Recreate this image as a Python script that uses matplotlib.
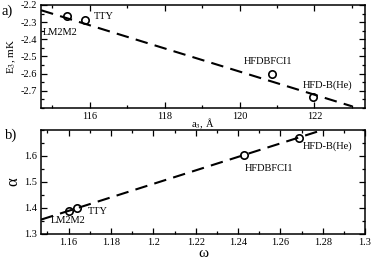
import numpy as np
import matplotlib.pyplot as plt
from matplotlib.ticker import MultipleLocator

plt.rcParams['font.family'] = ['Liberation Serif', 'DejaVu Serif']
plt.rcParams['axes.unicode_minus'] = False
plt.rcParams['mathtext.fontset'] = 'stix'

# potentials
names = ['LM2M2', 'TTY', 'HFDBFCI1', 'HFD-B(He)']

# panel a: scattering length vs trimer energy
a3 = [115.4, 115.87, 120.86, 121.95]
e3 = [-2.265, -2.288, -2.603, -2.738]
fit_a_x = [114.7, 123.0]
fit_a_y = [-2.231, -2.79]
lab_a_pos = [(114.75, -2.36), (116.1, -2.27), (120.1, -2.53), (121.7, -2.665)]

# panel b: omega vs alpha
omega = [1.16, 1.164, 1.2426, 1.2687]
alpha = [1.389, 1.398, 1.605, 1.670]
fit_b_x = [1.147, 1.2818]
fit_b_y = [1.355, 1.705]
lab_b_pos = [(1.1517, 1.352), (1.169, 1.386), (1.2434, 1.55), (1.2706, 1.637)]

fig = plt.figure(figsize=(3.74, 2.59), dpi=100)
ax1 = fig.add_axes([0.110, 0.583, 0.866, 0.398])
ax2 = fig.add_axes([0.110, 0.097, 0.866, 0.401])

def style(ax):
    ax.tick_params(which='both', direction='in', top=True, right=True,
                   labelsize=7.5, width=0.9, pad=3)
    ax.tick_params(which='major', length=4.5)
    ax.tick_params(which='minor', length=2.5)
    for s in ax.spines.values():
        s.set_linewidth(1.1)

# panel a
ax1.plot(fit_a_x, fit_a_y, '--', color='black', lw=1.5, dashes=(6, 3.5))
ax1.plot(a3, e3, 'o', mfc='none', mec='black', ms=5.3, mew=1.2)
for n, (x, y) in zip(names, lab_a_pos):
    ax1.text(x, y, n, fontsize=7.5, va='center', ha='left')
ax1.set_xlim(114.7, 123.35)
ax1.set_ylim(-2.8, -2.2)
ax1.xaxis.set_major_locator(MultipleLocator(2))
ax1.xaxis.set_minor_locator(MultipleLocator(1))
ax1.yaxis.set_major_locator(MultipleLocator(0.1))
ax1.yaxis.set_minor_locator(MultipleLocator(0.05))
ax1.set_yticks([-2.2, -2.3, -2.4, -2.5, -2.6, -2.7])
ax1.set_ylabel(r'E$_3$, mK', fontsize=8, labelpad=2)
ax1.text(119.02, -2.848, r'a$_3$, Å', fontsize=7.5, ha='center', va='top')
style(ax1)
fig.text(0.003, 0.955, 'a)', fontsize=10.5, va='center')

# panel b
ax2.plot(fit_b_x, fit_b_y, '--', color='black', lw=1.5, dashes=(6, 3.5))
ax2.plot(omega, alpha, 'o', mfc='none', mec='black', ms=5.3, mew=1.2)
for n, (x, y) in zip(names, lab_b_pos):
    ax2.text(x, y, n, fontsize=7.5, va='center', ha='left')
ax2.set_xlim(1.147, 1.3)
ax2.set_ylim(1.3, 1.7)
ax2.xaxis.set_major_locator(MultipleLocator(0.02))
ax2.xaxis.set_minor_locator(MultipleLocator(0.01))
ax2.yaxis.set_major_locator(MultipleLocator(0.1))
ax2.yaxis.set_minor_locator(MultipleLocator(0.05))
ax2.set_xticks([1.16, 1.18, 1.2, 1.22, 1.24, 1.26, 1.28, 1.3])
ax2.set_xticklabels(['1.16', '1.18', '1.2', '1.22', '1.24', '1.26', '1.28', '1.3'])
ax2.set_yticks([1.3, 1.4, 1.5, 1.6])
ax2.set_yticklabels(['1.3', '1.4', '1.5', '1.6'])
ax2.set_xlabel('ω', fontsize=11, labelpad=0)
ax2.set_ylabel('α', fontsize=12, labelpad=2)
style(ax2)
fig.text(0.013, 0.478, 'b)', fontsize=10.5, va='center')

fig.savefig('out.png', dpi=100)
plt.close()
